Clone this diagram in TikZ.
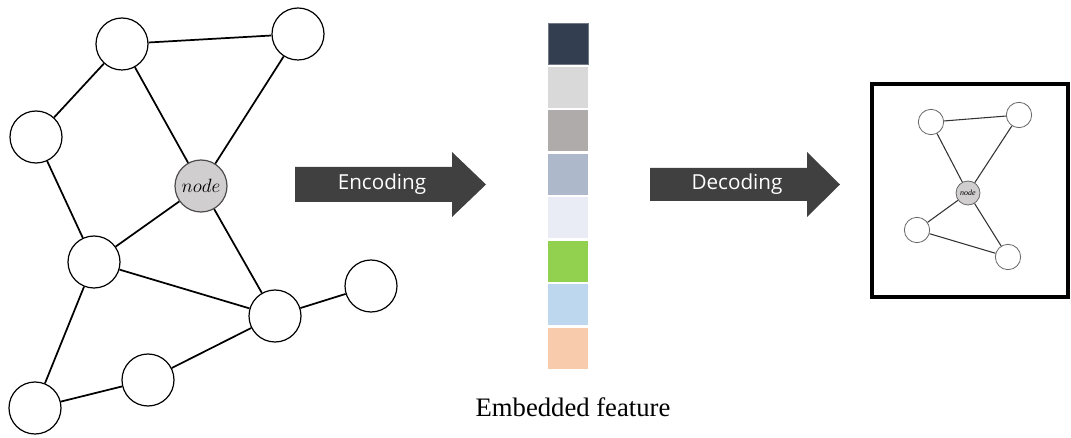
\documentclass[tikz,border=0pt]{standalone}
\usepackage{fontspec}
\setmainfont{Liberation Serif}
\newfontfamily\arrowfont{Open Sans}
\definecolor{arrowgray}{HTML}{404040}
\definecolor{nodegray}{HTML}{D0CECE}
\definecolor{cA}{HTML}{333F50}
\definecolor{cB}{HTML}{D9D9D9}
\definecolor{cC}{HTML}{AFABAB}
\definecolor{cD}{HTML}{ADB9CA}
\definecolor{cE}{HTML}{E9EBF5}
\definecolor{cF}{HTML}{92D050}
\definecolor{cG}{HTML}{BDD7EE}
\definecolor{cH}{HTML}{F8CBAD}
\tikzset{
  bignode/.style={circle,draw=black,line width=0.9pt,fill=white,minimum size=39pt,inner sep=0pt},
  keynode/.style={bignode,fill=nodegray,draw=black!70},
  edge/.style={line width=1.3pt,black},
  smallnode/.style={circle,draw=black!60,line width=0.6pt,fill=white,minimum size=19pt,inner sep=0pt},
  smallkey/.style={smallnode,fill=nodegray,minimum size=18pt},
  smalledge/.style={line width=0.8pt,black!80},
  bigarrow/.style={fill=arrowgray,draw=none},
  arrowtext/.style={text=white,font=\arrowfont\fontsize{15.5pt}{15.5pt}\selectfont},
  bar/.style={draw=none,minimum width=30pt,minimum height=30.75pt,inner sep=0pt,anchor=north west}
}
\begin{document}
\begin{tikzpicture}[x=0.75pt,y=-0.75pt]
\useasboundingbox (0,0) rectangle (1071,438);
% left graph
\node[bignode] (A) at (122,44) {};
\node[bignode] (B) at (298,34) {};
\node[bignode] (C) at (36,137) {};
\node[keynode] (N) at (201,186) {\fontsize{13.5pt}{13.5pt}\selectfont$node$};
\node[bignode] (D) at (94,262) {};
\node[bignode] (E) at (371,286) {};
\node[bignode] (F) at (275,316) {};
\node[bignode] (G) at (148,380) {};
\node[bignode] (H) at (35,408) {};
\draw[edge] (A) -- (B);
\draw[edge] (A) -- (C);
\draw[edge] (A) -- (N);
\draw[edge] (B) -- (N);
\draw[edge] (C) -- (D);
\draw[edge] (N) -- (D);
\draw[edge] (N) -- (F);
\draw[edge] (D) -- (F);
\draw[edge] (D) -- (H);
\draw[edge] (F) -- (E);
\draw[edge] (F) -- (G);
\draw[edge] (G) -- (H);
% encoding arrow
\fill[bigarrow] (295,167) -- (452,167) -- (452,152) -- (486,184.5) -- (452,217) -- (452,202) -- (295,202) -- cycle;
\node[arrowtext] (enc) at (382,184.5) {Encoding};
% decoding arrow
\fill[bigarrow] (650,168) -- (807,168) -- (807,152) -- (840,184.5) -- (807,217) -- (807,201) -- (650,201) -- cycle;
\node[arrowtext] (dec) at (737,184.5) {Decoding};
% embedded feature bars
\node[bar,fill=cA,draw=cA!70!white,line width=0.5pt] (b1) at (548,23) {};
\node[bar,fill=cB] (b2) at (548,66.5) {};
\node[bar,fill=cC] (b3) at (548,110) {};
\node[bar,fill=cD] (b4) at (548,153.5) {};
\node[bar,fill=cE] (b5) at (548,197) {};
\node[bar,fill=cF] (b6) at (548,240.5) {};
\node[bar,fill=cG] (b7) at (548,284) {};
\node[bar,fill=cH] (b8) at (548,327.5) {};
\node[font=\fontsize{20pt}{20pt}\selectfont] (lbl) at (573,407) {Embedded feature};
% right box
\draw[line width=2.4pt] (872,84) rectangle (1068,297);
\node[smallnode] (a) at (931,122) {};
\node[smallnode] (b) at (1019,115) {};
\node[smallkey] (n) at (968,193) {\fontsize{6pt}{6pt}\selectfont\itshape node};
\node[smallnode] (c) at (917,230) {};
\node[smallnode] (d) at (1008,257) {};
\draw[smalledge] (a) -- (b);
\draw[smalledge] (a) -- (n);
\draw[smalledge] (b) -- (n);
\draw[smalledge] (n) -- (c);
\draw[smalledge] (n) -- (d);
\draw[smalledge] (c) -- (d);
\end{tikzpicture}
\end{document}
